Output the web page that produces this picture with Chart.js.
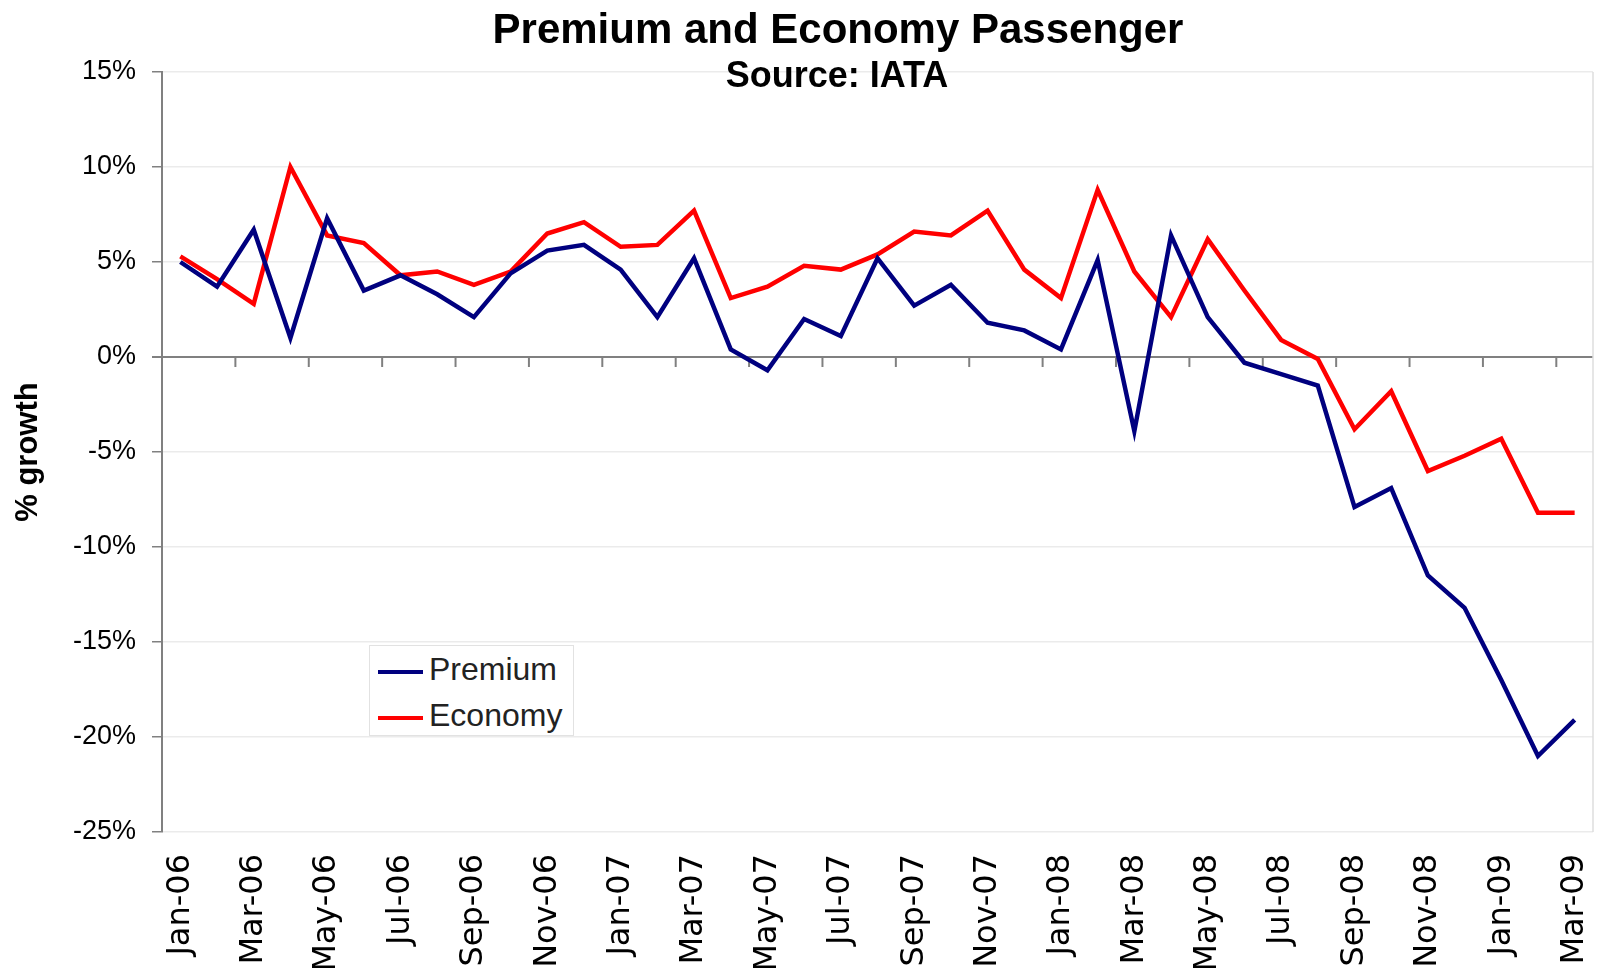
<!DOCTYPE html>
<html>
<head>
<meta charset="utf-8">
<title>Premium and Economy Passenger</title>
<script src="https://cdn.jsdelivr.net/npm/chart.js@4.4.1/dist/chart.umd.min.js"></script>
<style>
  html, body { margin: 0; padding: 0; background: #fff; }
  #wrap { position: relative; width: 1597px; height: 968px; }
  #legend {
    position: absolute; left: 369px; top: 645px; width: 203px; height: 89px;
    border: 1px solid #e2e2e2; background: #fff;
    font-family: 'Liberation Sans', Arial, sans-serif; font-size: 32px; color: #222;
  }
  .legend-item { position: absolute; left: 8px; height: 36px; line-height: 36px; white-space: nowrap; }
  .legend-item span.swatch { display: inline-block; width: 45px; height: 4px; vertical-align: middle; margin-right: 6px; }
</style>
</head>
<body>
<div id="wrap">
  <canvas id="growthChart" width="1597" height="968"></canvas>
  <div id="legend"></div>
</div>
<script>
const months = [
  'Jan-06', 'Feb-06', 'Mar-06', 'Apr-06', 'May-06', 'Jun-06', 'Jul-06', 'Aug-06', 'Sep-06', 'Oct-06', 'Nov-06', 'Dec-06',
  'Jan-07', 'Feb-07', 'Mar-07', 'Apr-07', 'May-07', 'Jun-07', 'Jul-07', 'Aug-07', 'Sep-07', 'Oct-07', 'Nov-07', 'Dec-07',
  'Jan-08', 'Feb-08', 'Mar-08', 'Apr-08', 'May-08', 'Jun-08', 'Jul-08', 'Aug-08', 'Sep-08', 'Oct-08', 'Nov-08', 'Dec-08',
  'Jan-09', 'Feb-09', 'Mar-09'
];

// % growth
const premium = [5.0, 3.7, 6.7, 1.0, 7.3, 3.5, 4.3, 3.3, 2.1, 4.4, 5.6, 5.9,
  4.6, 2.1, 5.2, 0.4, -0.7, 2.0, 1.1, 5.2, 2.7, 3.8, 1.8, 1.4,
  0.4, 5.1, -3.9, 6.4, 2.1, -0.3, -0.9, -1.5, -7.9, -6.9, -11.5, -13.2,
  -17.0, -21.0, -19.1];
const economy = [5.3, 4.1, 2.8, 10.0, 6.4, 6.0, 4.3, 4.5, 3.8, 4.5, 6.5, 7.1,
  5.8, 5.9, 7.7, 3.1, 3.7, 4.8, 4.6, 5.4, 6.6, 6.4, 7.7, 4.6,
  3.1, 8.8, 4.5, 2.1, 6.2, 3.5, 0.9, -0.1, -3.8, -1.8, -6.0, -5.2,
  -4.3, -8.2, -8.2];

const yTicks = [-25, -20, -15, -10, -5, 0, 5, 10, 15];

const FONT = "'Liberation Sans', Arial, sans-serif";
const WIDE = "'DejaVu Sans', 'Liberation Sans', sans-serif";

// Titles drawn over the top of the plot like the Excel original
const titlePlugin = {
  id: 'titles',
  afterDraw(chart) {
    const ctx = chart.ctx;
    ctx.save();
    ctx.fillStyle = '#000';
    ctx.textAlign = 'center';
    ctx.textBaseline = 'alphabetic';
    ctx.font = 'bold 42px ' + FONT;
    ctx.fillText('Premium and Economy Passenger', 838, 43);
    ctx.font = 'bold 36px ' + FONT;
    ctx.fillText('Source: IATA', 837, 87);
    ctx.restore();
  }
};

// x axis crosses at 0%: small tick marks every two months + faint right border
const zeroAxisPlugin = {
  id: 'zeroAxis',
  beforeDatasetsDraw(chart) {
    const { ctx, chartArea } = chart;
    const x = chart.scales.x, y = chart.scales.y;
    const y0 = y.getPixelForValue(0);
    ctx.save();
    ctx.strokeStyle = '#dedede';
    ctx.lineWidth = 1.5;
    ctx.beginPath();
    ctx.moveTo(chartArea.right, chartArea.top);
    ctx.lineTo(chartArea.right, chartArea.bottom);
    ctx.stroke();
    ctx.strokeStyle = '#808080';
    ctx.lineWidth = 2;
    const half = (x.getPixelForValue(1) - x.getPixelForValue(0)) / 2;
    for (let i = 2; i < months.length; i += 2) {
      const px = x.getPixelForValue(i) - half;
      ctx.beginPath();
      ctx.moveTo(px, y0);
      ctx.lineTo(px, y0 + 10);
      ctx.stroke();
    }
    ctx.restore();
  }
};

function renderLegend(chart) {
  const legend = document.getElementById('legend');
  legend.innerHTML = '';
  chart.data.datasets.forEach((ds, i) => {
    const item = document.createElement('div');
    item.className = 'legend-item';
    item.style.top = (5 + i * 46) + 'px';
    item.innerHTML = `<span class="swatch" style="background:${ds.borderColor}"></span>${ds.label}`;
    legend.appendChild(item);
  });
}

const ctx = document.getElementById('growthChart').getContext('2d');
const growthChart = new Chart(ctx, {
  type: 'line',
  data: {
    labels: months,
    datasets: [
      { label: 'Premium', data: premium, borderColor: '#00007f', borderWidth: 4.5, pointRadius: 0, tension: 0, fill: false },
      { label: 'Economy', data: economy, borderColor: '#ff0000', borderWidth: 4.5, pointRadius: 0, tension: 0, fill: false }
    ]
  },
  options: {
    responsive: false,
    animation: false,
    layout: { padding: { top: 72, right: 4, left: 0, bottom: 0 } },
    plugins: {
      legend: { display: false },
      tooltip: { enabled: false }
    },
    scales: {
      x: {
        offset: true,
        grid: { display: false, drawTicks: false },
        border: { display: false },
        ticks: {
          autoSkip: false,
          minRotation: 90,
          maxRotation: 90,
          padding: 22,
          color: '#000',
          font: { family: WIDE, size: 32 },
          callback: (v, i) => (i % 2 === 0 ? months[i] : '')
        },
        afterFit: s => { s.height = 136; s.paddingLeft = 0; s.paddingRight = 0; }
      },
      y: {
        min: -25,
        max: 15,
        afterBuildTicks: s => { s.ticks = yTicks.map(v => ({ value: v })); },
        grid: {
          color: c => (c.tick && c.tick.value === 0 ? '#808080' : '#ebebeb'),
          lineWidth: c => (c.tick && c.tick.value === 0 ? 2 : 1.5),
          tickColor: '#808080',
          tickLength: 10
        },
        border: { display: true, color: '#808080', width: 2 },
        ticks: {
          padding: 16,
          color: '#000',
          font: { family: FONT, size: 27 },
          callback: v => v + '%'
        },
        title: {
          display: true,
          text: '% growth',
          color: '#000',
          padding: { top: 10, bottom: 4 },
          font: { family: FONT, size: 31, weight: 'bold' }
        },
        afterFit: s => { s.width = 162; s.paddingTop = 0; s.paddingBottom = 0; }
      }
    }
  },
  plugins: [titlePlugin, zeroAxisPlugin]
});

renderLegend(growthChart);
</script>
</body>
</html>
